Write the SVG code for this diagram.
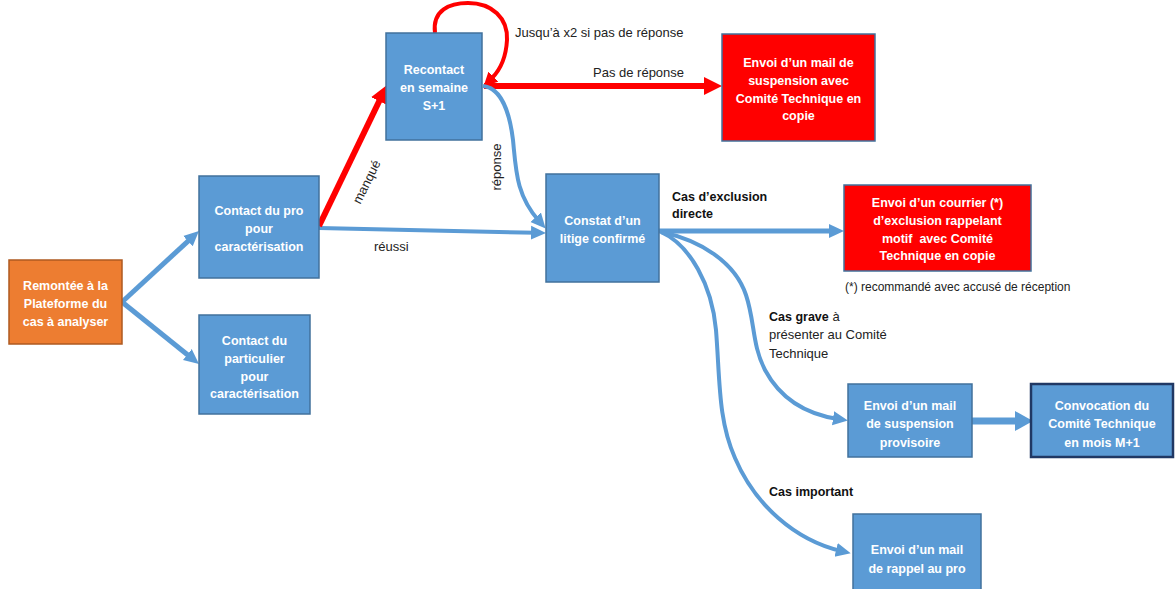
<svg xmlns="http://www.w3.org/2000/svg" width="1175" height="589" viewBox="0 0 1175 589">
<style>
.box{fill:#5B9BD5;stroke:#41719C;stroke-width:1.5}
.red{fill:#FF0000;stroke:#41719C;stroke-width:1.5}
.org{fill:#ED7D31;stroke:#AE5A21;stroke-width:1.5}
.bt{font-family:"Liberation Sans",Arial,sans-serif;font-weight:bold;font-size:12.5px;fill:#FFFFFF;text-anchor:middle}
.lb{font-family:"Liberation Sans",Arial,sans-serif;font-size:13px;fill:#222222}
.lbb{font-family:"Liberation Sans",Arial,sans-serif;font-size:12.5px;font-weight:bold;fill:#111111}
.bl{fill:none;stroke:#5B9BD5;stroke-width:5}
.rl{fill:none;stroke:#FF0000;stroke-width:6}
</style>
<defs>
<marker id="ab" markerUnits="userSpaceOnUse" viewBox="0 0 16 16" markerWidth="16" markerHeight="16" refX="5" refY="8" orient="auto"><path d="M0,1 L15,8 L0,15 z" fill="#5B9BD5"/></marker>
<marker id="abl" markerUnits="userSpaceOnUse" viewBox="0 0 20 20" markerWidth="20" markerHeight="20" refX="8" refY="10" orient="auto"><path d="M0,0 L18,10 L0,20 z" fill="#5B9BD5"/></marker>
<marker id="ar" markerUnits="userSpaceOnUse" viewBox="0 0 18 18" markerWidth="18" markerHeight="18" refX="6" refY="9" orient="auto"><path d="M0,0 L18,9 L0,18 z" fill="#FF0000"/></marker>
<marker id="ars" markerUnits="userSpaceOnUse" viewBox="0 0 14 14" markerWidth="14" markerHeight="14" refX="2" refY="7" orient="auto"><path d="M0,0 L14,7 L0,14 z" fill="#FF0000"/></marker>
</defs>
<rect width="1175" height="589" fill="#FFFFFF"/>

<g id="connectors">
<path class="bl" d="M122,302 L191.6,237.8" marker-end="url(#ab)"/>
<path class="bl" d="M122,302 L191.2,357.7" marker-end="url(#ab)"/>
<path class="bl" style="stroke-width:4" d="M319,228 L536,232.8" marker-end="url(#ab)"/>
<path class="rl" d="M319,226 L381.8,95.8" marker-end="url(#ar)"/>
<path class="rl" d="M484,86 L710,86" marker-end="url(#ar)"/>
<path class="rl" style="stroke-width:4" d="M435,33 C432,10 450,3 468,3 C492,3 508,18 507,40 C506,58 500,70 492,78" marker-end="url(#ars)"/>
<path class="bl" style="stroke-width:4" d="M483,86 C502,88 510,115 513,140 C516,170 516,195 539,221" marker-end="url(#ab)"/>
<path class="bl" d="M659,231 L834,231" marker-end="url(#ab)"/>
<path class="bl" style="stroke-width:4" d="M661,232 C700,240 735,262 746,295 C755,322 752,345 765,370 C780,398 805,414 838,419" marker-end="url(#ab)"/>
<path class="bl" style="stroke-width:4" d="M661,232 C690,245 712,285 716,330 C720,380 718,420 735,458 C755,505 795,540 841,551" marker-end="url(#ab)"/>
<path class="bl" style="stroke-width:7" d="M972,421 L1023,421" marker-end="url(#abl)"/>
</g>

<g id="labels">
<text class="lb" x="515" y="37">Jusqu’à x2 si pas de réponse</text>
<text class="lb" x="593" y="77">Pas de réponse</text>
<text class="lb" x="374" y="251">réussi</text>
<text class="lb" text-anchor="middle" transform="translate(367,182) rotate(-64)" y="4">manqué</text>
<text class="lb" text-anchor="middle" transform="translate(497,167) rotate(-90)" y="4">réponse</text>
<text class="lbb" x="672" y="201">Cas d’exclusion</text>
<text class="lbb" x="672" y="218">directe</text>
<text class="lb" style="font-size:12px" x="845" y="291">(*) recommandé avec accusé de réception</text>
<text class="lb" x="769" y="321"><tspan style="font-weight:bold;font-size:12.5px;fill:#111">Cas grave</tspan> à</text>
<text class="lb" x="769" y="339">présenter au Comité</text>
<text class="lb" x="769" y="358">Technique</text>
<text class="lbb" x="769" y="496">Cas important</text>
</g>

<g id="n-remontee">
<rect class="org" x="9" y="260" width="113" height="84"/>
<text class="bt" x="65.5" y="290">Remontée à la</text>
<text class="bt" x="65.5" y="308">Plateforme du</text>
<text class="bt" x="65.5" y="326">cas à analyser</text>
</g>

<g id="n-contact-pro">
<rect class="box" x="199" y="176" width="120" height="102"/>
<text class="bt" x="259" y="215">Contact du pro</text>
<text class="bt" x="259" y="233">pour</text>
<text class="bt" x="259" y="251">caractérisation</text>
</g>

<g id="n-contact-part">
<rect class="box" x="199" y="315" width="111" height="99"/>
<text class="bt" x="254.5" y="345">Contact du</text>
<text class="bt" x="254.5" y="363">particulier</text>
<text class="bt" x="254.5" y="381">pour</text>
<text class="bt" x="254.5" y="398">caractérisation</text>
</g>

<g id="n-recontact">
<rect class="box" x="386" y="33" width="96" height="107"/>
<text class="bt" x="434" y="74">Recontact</text>
<text class="bt" x="434" y="92">en semaine</text>
<text class="bt" x="434" y="110">S+1</text>
</g>

<g id="n-constat">
<rect class="box" x="546" y="174" width="113" height="108"/>
<text class="bt" x="602.5" y="225">Constat d’un</text>
<text class="bt" x="602.5" y="243">litige confirmé</text>
</g>

<g id="n-mail-suspension">
<rect class="red" x="722" y="34" width="153" height="107"/>
<text class="bt" x="798.5" y="67">Envoi d’un mail de</text>
<text class="bt" x="798.5" y="85">suspension avec</text>
<text class="bt" x="798.5" y="103">Comité Technique en</text>
<text class="bt" x="798.5" y="120">copie</text>
</g>

<g id="n-courrier">
<rect class="red" x="844" y="185" width="187" height="86"/>
<text class="bt" x="937.5" y="207">Envoi d’un courrier (*)</text>
<text class="bt" x="937.5" y="225">d’exclusion rappelant</text>
<text class="bt" x="937.5" y="243" xml:space="preserve">motif  avec Comité</text>
<text class="bt" x="937.5" y="260">Technique en copie</text>
</g>

<g id="n-suspension-prov">
<rect class="box" x="848" y="384" width="124" height="73"/>
<text class="bt" x="910" y="410">Envoi d’un mail</text>
<text class="bt" x="910" y="428">de suspension</text>
<text class="bt" x="910" y="447">provisoire</text>
</g>

<g id="n-convocation">
<rect class="box" x="1031" y="384" width="142" height="73" style="stroke:#203864;stroke-width:2.5"/>
<text class="bt" x="1102" y="410">Convocation du</text>
<text class="bt" x="1102" y="428">Comité Technique</text>
<text class="bt" x="1102" y="447">en mois M+1</text>
</g>

<g id="n-rappel">
<rect class="box" x="853" y="514" width="128" height="80"/>
<text class="bt" x="917" y="554">Envoi d’un mail</text>
<text class="bt" x="917" y="573">de rappel au pro</text>
</g>
</svg>
